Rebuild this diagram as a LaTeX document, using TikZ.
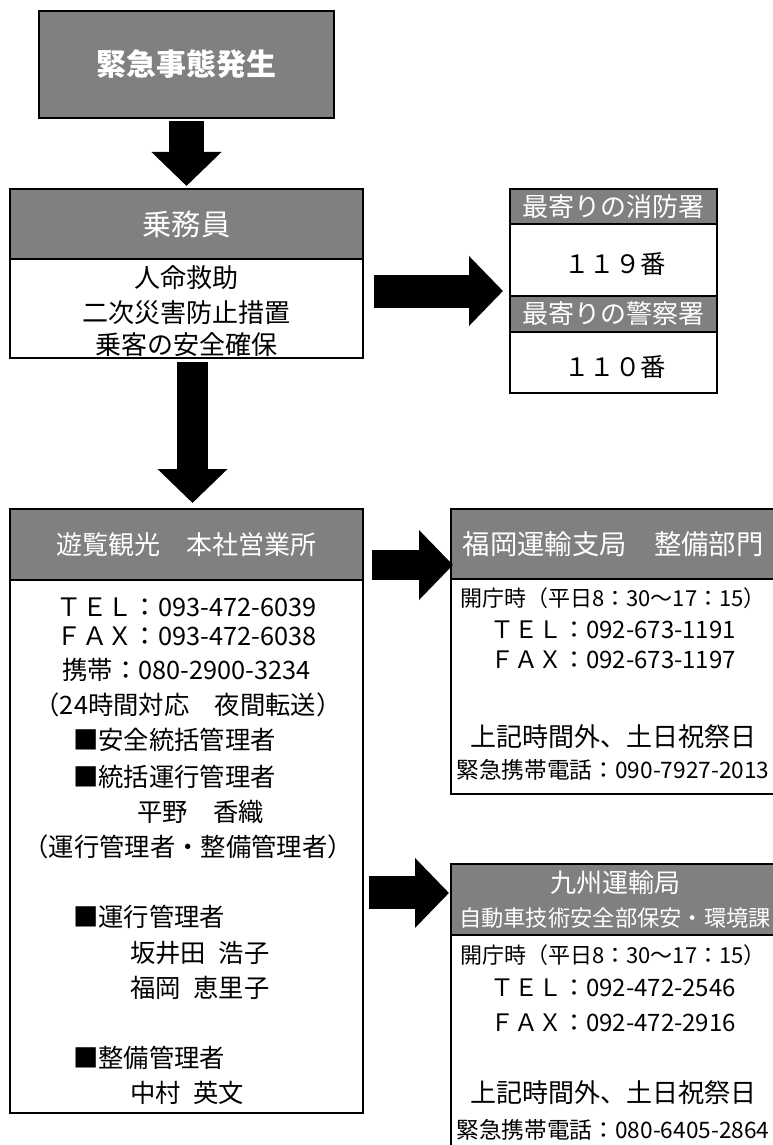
\documentclass[tikz,border=0pt]{standalone}
\usepackage{fontspec}
\setmainfont{Noto Sans CJK JP}
\usetikzlibrary{positioning,calc,arrows.meta}
\definecolor{boxgray}{HTML}{808080}
\newcommand\jpsize[1]{\fontsize{#1}{1.3\dimexpr#1\relax}\selectfont}

\tikzset{
  headbox/.style={draw, line width=1.5pt, fill=boxgray, text=white, inner sep=0pt, outer sep=0pt},
  bodybox/.style={draw, line width=1.5pt, fill=white, inner sep=0pt, outer sep=0pt, align=center},
  line/.style={inner sep=0pt, font=\jpsize{19pt}},
  bigarrow/.style={line width=24.75pt, -{Triangle[length=25.5pt,width=51pt]}},
}

\begin{document}
\begin{tikzpicture}[x=0.75pt,y=-0.75pt]
		\useasboundingbox (0,0) rectangle (773,1145);
		%%%%% START %%%%%
		
		\node[headbox, minimum width=221.25pt, minimum height=80.25pt, font=\jpsize{22.5pt}\bfseries] (emerg) at (186.5,64.5) {緊急事態発生};
		
		\node[headbox, minimum width=264.75pt, minimum height=52.5pt, font=\jpsize{22pt}] (crewhead) at (186.5,224) {乗務員};
		\node[bodybox, minimum width=264.75pt, minimum height=74.25pt, below=0pt of crewhead] (crewbody) {};
		\node[line, font=\jpsize{19.5pt}] (crewa) at (186.5,278) {人命救助};
		\node[line, font=\jpsize{19.5pt}] (crewb) at (186.5,313) {二次災害防止措置};
		\node[line, font=\jpsize{19.5pt}] (crewc) at (186.5,345) {乗客の安全確保};
		
		\node[headbox, minimum width=155.25pt, minimum height=26.25pt, font=\jpsize{19.5pt}] (firehead) at (613.5,206.5) {最寄りの消防署};
		\node[bodybox, minimum width=155.25pt, minimum height=54pt, below=0pt of firehead] (firebody) {};
		\node[headbox, minimum width=155.25pt, minimum height=27pt, below=0pt of firebody, font=\jpsize{19.5pt}] (policehead) {最寄りの警察署};
		\node[bodybox, minimum width=155.25pt, minimum height=45.75pt, below=0pt of policehead] (policebody) {};
		\node[line] (firenum) at (615,264) {１１９番};
		\node[line] (policenum) at (615,367) {１１０番};
		\coordinate (firemid) at ($(firehead.north west)!.5!(policebody.south west)$);
		
		\node[headbox, minimum width=264.75pt, minimum height=53.25pt, font=\jpsize{19.5pt}] (officehead) at (186.5,544.5) {遊覧観光　本社営業所};
		\node[bodybox, minimum width=264.75pt, minimum height=399.75pt, below=0pt of officehead] (officebody) {};
		
		\node[line] (otel) at (186.5,607) {ＴＥＬ：093-472-6039};
		\node[line] (ofax) at (186.5,636) {ＦＡＸ：093-472-6038};
		\node[line] (omobile) at (186.5,670) {携帯：080-2900-3234};
		\node[line] (onight) at (188,705) {（24時間対応　夜間転送）};
		\node[line, anchor=west] (osafety) at (73,740) {■安全統括管理者};
		\node[line, anchor=west] (ochief) at (73,777) {■統括運行管理者};
		\node[line, anchor=west] (ochiefname) at (137,812) {平野　香織};
		\node[line] (ochiefrole) at (188,847) {（運行管理者・整備管理者）};
		\node[line, anchor=west] (oop) at (73,917) {■運行管理者};
		\node[line, anchor=west] (oopnamea) at (130,953) {坂井田\enspace 浩子};
		\node[line, anchor=west] (oopnameb) at (130,988) {福岡\enspace 恵里子};
		\node[line, anchor=west] (omaint) at (73,1058) {■整備管理者};
		\node[line, anchor=west] (omaintname) at (130,1093) {中村\enspace 英文};
		
		\node[headbox, minimum width=243pt, minimum height=52.5pt, font=\jpsize{20.5pt}] (fukuokahead) at (613,544) {福岡運輸支局　整備部門};
		\node[bodybox, minimum width=243pt, minimum height=161.25pt, below=0pt of fukuokahead] (fukuokabody) {};
		
		\node[line, font=\jpsize{16.5pt}] (fopen) at (613,598) {開庁時（平日8：30～17：15）};
		\node[line, font=\jpsize{18pt}] (ftel) at (613,630) {ＴＥＬ：092-673-1191};
		\node[line, font=\jpsize{18pt}] (ffax) at (613,660) {ＦＡＸ：092-673-1197};
		\node[line, font=\jpsize{19.5pt}] (fafter) at (613,737) {上記時間外、土日祝祭日};
		\node[line, font=\jpsize{17pt}] (fmobile) at (613,770) {緊急携帯電話：090-7927-2013};
		
		\node[headbox, minimum width=243pt, minimum height=53.25pt] (kyushuhead) at (613,899.5) {};
		\node[line, text=white, font=\jpsize{19.5pt}] (kyushua) at (615,883) {九州運輸局};
		\node[line, text=white, font=\jpsize{16.7pt}] (kyushub) at (615,918) {自動車技術安全部保安・環境課};
		\node[bodybox, minimum width=243pt, minimum height=168.75pt, below=0pt of kyushuhead] (kyushubody) {};
		
		\node[line, font=\jpsize{16.5pt}] (kopen) at (613,955) {開庁時（平日8：30～17：15）};
		\node[line, font=\jpsize{18pt}] (ktel) at (613,988) {ＴＥＬ：092-472-2546};
		\node[line, font=\jpsize{18pt}] (kfax) at (613,1023) {ＦＡＸ：092-472-2916};
		\node[line, font=\jpsize{19.5pt}] (kafter) at (613,1093) {上記時間外、土日祝祭日};
		\node[line, font=\jpsize{17pt}] (kmobile) at (613,1130) {緊急携帯電話：080-6405-2864};
		
		\coordinate (farrow) at ([yshift=-15.75pt]fukuokahead.west);
		\coordinate (karrow) at ([yshift=4.9pt]kyushuhead.west);
		
		\draw[bigarrow, line width=26.25pt, shorten <=2.25pt, shorten >=2.25pt] (emerg) -- (crewhead);
		\draw[bigarrow, shorten <=8.25pt, shorten >=5.25pt] (crewbody.east |- firemid) -- (firemid);
		\draw[bigarrow, line width=23.25pt, shorten <=3pt, shorten >=4.5pt] ([xshift=4.5pt]crewbody.south) -- ([xshift=4.5pt]officehead.north);
		\draw[bigarrow, line width=22.5pt, shorten <=6.75pt, shorten >=-1.5pt] (officehead.east |- farrow) -- (farrow);
		\draw[bigarrow, shorten <=4.5pt, shorten >=1.5pt] (officebody.east |- karrow) -- (karrow);
		
		%%%%% END %%%%%
\end{tikzpicture}
\end{document}
